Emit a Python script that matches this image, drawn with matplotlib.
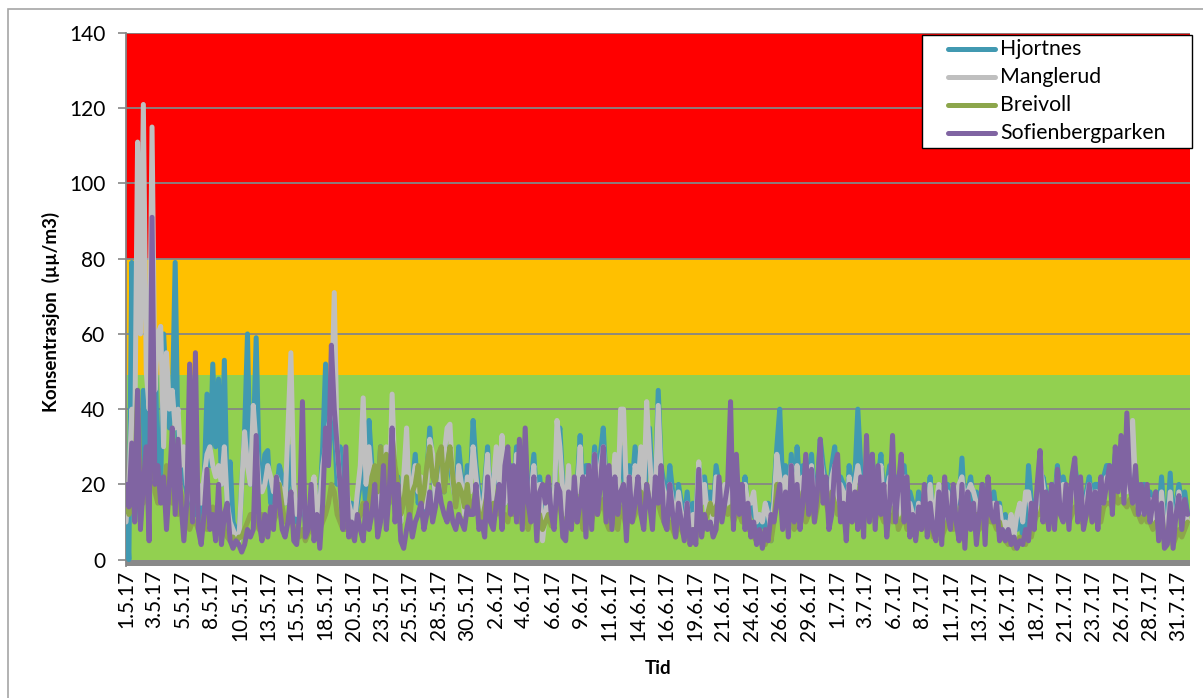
import matplotlib
matplotlib.use("Agg")
import matplotlib.pyplot as plt
import numpy as np
from matplotlib.patches import Rectangle
from matplotlib.lines import Line2D

plt.rcParams['font.family'] = ['Lato', 'DejaVu Sans']

# 6-hourly readings (4 per day), 1.5.17 - 31.7.17
hjortnes = [
    15, 0, 79, 40,  20, 10, 45, 30,  48, 30, 60, 20,  20, 60, 45, 35,  40, 79, 30, 25,
    22, 18, 15, 12,  12, 15, 10, 20,  44, 25, 52, 30,  48, 20, 53, 15,  26, 10, 8, 5,
    20, 34, 60, 20,  30, 59, 25, 20,  28, 29, 15, 20,  18, 25, 22, 15,  20, 30, 15, 10,
    12, 18, 10, 8,  15, 20, 12, 15,  30, 52, 25, 40,  35, 20, 30, 15,  20, 12, 15, 10,
    15, 20, 25, 12,  37, 25, 18, 15,  30, 20, 25, 15,  30, 20, 22, 12,  18, 25, 12, 20,
    28, 15, 20, 12,  22, 35, 25, 15,  20, 25, 18, 30,  25, 20, 15, 30,  22, 15, 25, 20,
    37, 25, 18, 12,  20, 30, 15, 22,  25, 18, 30, 15,  22, 25, 18, 30,  15, 20, 25, 12,
    20, 28, 15, 22,  15, 10, 20, 12,  18, 30, 35, 20,  15, 22, 12, 20,  20, 33, 15, 25,
    25, 18, 30, 20,  28, 35, 20, 15,  20, 25, 18, 30,  22, 15, 25, 20,  30, 20, 25, 15,
    25, 35, 18, 20,  45, 25, 20, 15,  25, 18, 12, 20,  15, 10, 18, 8,  15, 12, 25, 18,
    22, 15, 18, 12,  25, 20, 15, 18,  18, 25, 20, 15,  20, 15, 22, 12,  15, 12, 10, 8,
    12, 8, 15, 5,  18, 30, 40, 20,  25, 15, 28, 12,  30, 18, 25, 15,  22, 28, 15, 20,
    32, 25, 20, 15,  25, 30, 18, 22,  20, 12, 25, 18,  22, 40, 25, 15,  25, 20, 28, 15,
    22, 28, 15, 20,  25, 18, 22, 15,  20, 25, 15, 18,  15, 10, 18, 12,  18, 15, 22, 10,
    12, 18, 8, 15,  20, 15, 10, 18,  15, 27, 12, 18,  22, 15, 18, 12,  20, 12, 18, 15,
    18, 12, 15, 8,  12, 5, 10, 8,  8, 12, 6, 10,  25, 15, 12, 18,  15, 22, 18, 12,
    20, 15, 25, 18,  22, 18, 15, 20,  25, 20, 18, 15,  18, 22, 15, 20,  20, 15, 22, 25,
    25, 20, 28, 22,  25, 30, 20, 25,  22, 18, 20, 15,  20, 15, 18, 12,  18, 12, 22, 10,
    10, 23, 8, 15,  20, 15, 18, 12,
]
manglerud = [
    10, 20, 40, 30,  111, 60, 121, 50,  40, 115, 45, 60,  62, 30, 55, 40,  45, 35, 40, 25,
    30, 20, 18, 15,  18, 20, 15, 22,  28, 30, 25, 22,  25, 20, 30, 15,  10, 8, 6, 5,
    20, 34, 25, 20,  41, 30, 20, 18,  20, 25, 22, 18,  22, 20, 18, 15,  35, 55, 20, 12,
    15, 20, 12, 8,  18, 22, 12, 15,  25, 30, 35, 40,  71, 30, 20, 15,  20, 15, 12, 10,
    18, 25, 43, 20,  30, 20, 15, 12,  25, 22, 30, 18,  44, 22, 18, 10,  22, 35, 15, 20,
    25, 18, 22, 14,  20, 32, 28, 15,  18, 22, 28, 35,  36, 20, 15, 25,  20, 12, 22, 18,
    30, 22, 15, 10,  18, 28, 12, 20,  30, 20, 33, 15,  20, 22, 15, 28,  12, 18, 20, 10,
    18, 25, 12, 20,  5, 12, 18, 10,  15, 37, 30, 18,  12, 25, 10, 18,  18, 30, 12, 22,
    22, 15, 28, 18,  25, 30, 18, 12,  18, 28, 15, 40,  40, 18, 22, 15,  25, 20, 30, 18,
    42, 28, 15, 18,  41, 22, 18, 12,  20, 15, 10, 18,  12, 8, 15, 5,  12, 10, 26, 15,
    20, 12, 15, 10,  22, 18, 14, 20,  15, 22, 18, 12,  18, 12, 20, 15,  15, 18, 10, 12,
    10, 15, 12, 8,  15, 28, 22, 18,  22, 12, 25, 10,  25, 15, 22, 12,  20, 25, 12, 18,
    28, 22, 18, 12,  22, 25, 15, 20,  18, 10, 22, 15,  20, 25, 20, 12,  22, 18, 25, 12,
    20, 25, 12, 18,  22, 15, 18, 12,  18, 22, 12, 15,  12, 8, 15, 10,  15, 12, 20, 10,
    15, 20, 10, 12,  18, 14, 12, 16,  20, 22, 15, 18,  20, 18, 15, 10,  18, 10, 16, 12,
    15, 10, 14, 8,  10, 8, 12, 6,  12, 15, 10, 18,  18, 12, 10, 15,  25, 20, 15, 12,
    18, 14, 22, 15,  20, 15, 12, 18,  22, 18, 15, 12,  16, 20, 14, 18,  18, 14, 20, 22,
    22, 18, 25, 20,  22, 28, 18, 22,  37, 20, 15, 12,  18, 14, 16, 10,  16, 10, 18, 8,
    8, 18, 6, 12,  18, 12, 15, 10,
]
breivoll = [
    16, 12, 14, 20,  45, 20, 15, 25,  20, 30, 18, 15,  20, 15, 25, 18,  15, 20, 12, 18,
    12, 15, 8, 10,  10, 8, 7, 12,  8, 10, 14, 10,  10, 12, 8, 6,  5, 6, 4, 6,
    6, 8, 10, 12,  12, 10, 8, 12,  8, 10, 12, 10,  12, 20, 14, 10,  10, 12, 8, 6,
    6, 8, 5, 7,  8, 10, 6, 8,  10, 12, 15, 20,  18, 12, 10, 8,  8, 10, 6, 8,
    10, 12, 15, 10,  15, 22, 25, 18,  30, 20, 28, 15,  33, 25, 20, 12,  15, 22, 10, 18,
    20, 25, 14, 18,  25, 30, 22, 20,  28, 30, 18, 25,  30, 22, 14, 20,  18, 14, 20, 12,
    15, 18, 12, 10,  14, 18, 10, 15,  12, 15, 10, 12,  10, 15, 12, 14,  10, 12, 15, 8,
    12, 14, 10, 12,  8, 10, 12, 9,  12, 15, 14, 10,  8, 12, 10, 12,  10, 14, 8, 12,
    12, 10, 14, 12,  14, 16, 10, 8,  10, 12, 8, 14,  12, 8, 14, 10,  12, 15, 18, 10,
    20, 15, 12, 18,  15, 12, 10, 8,  10, 8, 6, 10,  8, 6, 10, 4,  8, 6, 10, 8,
    10, 12, 15, 12,  14, 16, 12, 14,  12, 14, 10, 12,  12, 10, 14, 8,  8, 6, 5, 6,
    6, 4, 8, 5,  10, 20, 15, 12,  14, 10, 22, 8,  15, 12, 18, 10,  12, 18, 10, 14,
    20, 22, 15, 12,  18, 15, 12, 14,  12, 8, 14, 10,  14, 18, 15, 10,  15, 12, 16, 10,
    14, 12, 10, 12,  12, 10, 14, 8,  10, 12, 8, 10,  8, 6, 10, 8,  10, 8, 12, 6,
    8, 10, 6, 8,  10, 12, 8, 10,  10, 12, 8, 10,  12, 10, 12, 8,  10, 8, 12, 10,
    10, 8, 10, 6,  5, 4, 6, 3,  4, 6, 5, 4,  8, 6, 10, 12,  12, 15, 10, 12,
    12, 10, 14, 12,  14, 12, 10, 12,  14, 12, 10, 10,  12, 14, 10, 12,  12, 10, 14, 15,
    15, 14, 18, 15,  16, 15, 14, 16,  14, 12, 12, 10,  12, 10, 10, 8,  10, 8, 12, 6,
    5, 8, 4, 6,  8, 6, 8, 10,
]
sofienbergparken = [
    20, 14, 31, 10,  45, 8, 20, 30,  5, 91, 20, 25,  15, 22, 8, 20,  35, 12, 32, 15,
    5, 15, 52, 10,  55, 8, 4, 12,  24, 8, 12, 5,  20, 4, 12, 15,  5, 3, 5, 4,
    2, 4, 8, 6,  8, 33, 10, 5,  12, 6, 14, 8,  22, 15, 8, 6,  10, 18, 5, 4,
    12, 42, 6, 8,  20, 5, 12, 3,  15, 35, 25, 57,  40, 30, 20, 8,  30, 6, 10, 5,
    12, 8, 5, 15,  8, 12, 20, 6,  10, 25, 8, 18,  35, 10, 20, 5,  3, 8, 12, 6,
    10, 12, 15, 8,  12, 18, 10, 14,  20, 15, 12, 10,  15, 10, 8, 12,  10, 8, 14, 12,
    12, 20, 8, 10,  6, 22, 10, 8,  15, 20, 8, 25,  30, 12, 25, 10,  32, 8, 35, 15,
    10, 22, 5, 18,  20, 15, 22, 12,  8, 20, 18, 6,  5, 18, 8, 22,  10, 15, 22, 6,
    25, 8, 28, 12,  20, 30, 10, 25,  8, 22, 12, 18,  20, 5, 22, 10,  15, 22, 12, 8,
    20, 15, 8, 22,  15, 25, 10, 8,  20, 12, 6, 15,  10, 5, 15, 4,  8, 4, 24, 6,
    12, 8, 10, 6,  8, 22, 10, 15,  20, 42, 8, 28,  12, 20, 8, 15,  6, 10, 4, 8,
    3, 8, 5, 12,  10, 15, 20, 8,  18, 6, 25, 10,  20, 8, 15, 28,  12, 24, 10, 18,
    32, 15, 22, 8,  12, 25, 28, 10,  15, 5, 20, 10,  18, 8, 22, 6,  33, 10, 28, 8,
    25, 12, 20, 6,  15, 33, 10, 20,  28, 10, 22, 6,  12, 5, 14, 8,  20, 6, 15, 8,
    5, 18, 4, 22,  12, 8, 20, 10,  5, 20, 3, 18,  8, 15, 4, 12,  20, 4, 22, 12,
    10, 15, 5, 8,  5, 8, 4, 6,  3, 5, 4, 8,  5, 15, 8, 20,  29, 10, 18, 8,
    20, 8, 24, 12,  10, 20, 8, 22,  27, 10, 22, 8,  12, 20, 10, 18,  8, 22, 15, 20,
    25, 12, 30, 18,  33, 15, 39, 20,  15, 25, 12, 20,  12, 20, 10, 15,  18, 5, 15, 3,
    4, 15, 3, 12,  17, 8, 16, 12,
]

series_names = ["Hjortnes", "Manglerud", "Breivoll", "Sofienbergparken"]
series_colors = ["#4199B1", "#BFBFBF", "#8CA64B", "#8064A2"]

tick_labels = [
    "1.5.17", "3.5.17", "5.5.17", "8.5.17", "10.5.17", "13.5.17", "15.5.17", "18.5.17",
    "20.5.17", "23.5.17", "25.5.17", "28.5.17", "30.5.17", "2.6.17", "4.6.17", "6.6.17",
    "9.6.17", "11.6.17", "14.6.17", "16.6.17", "19.6.17", "21.6.17", "24.6.17", "26.6.17",
    "29.6.17", "1.7.17", "3.7.17", "6.7.17", "8.7.17", "11.7.17", "13.7.17", "16.7.17",
    "18.7.17", "21.7.17", "23.7.17", "26.7.17", "28.7.17", "31.7.17",
]

# threshold bands (lower, upper, colour)
band_limits = [0, 49, 80, 140]
band_colors = ["#92D050", "#FFC000", "#FF0000"]

step_hours = 6
tick_interval_hours = 59

fig = plt.figure(figsize=(12.03, 6.98), dpi=100)
W, H = 1203, 698
ax = fig.add_axes([126 / W, 1 - 566 / H, (1190 - 126) / W, (566 - 33) / H])

def fx(px):
    return px / W

def fy(py):
    return 1 - py / H

# figure border
fig.patches.append(Rectangle((fx(8), -0.1), 1.2, fy(9) + 0.1, transform=fig.transFigure,
                             fill=False, edgecolor="#A6A6A6", linewidth=1.2))

ymin = -1.7
ax.axhspan(ymin, 0, color="#898989", zorder=0, lw=0)
for lo, hi, c in zip(band_limits[:-1], band_limits[1:], band_colors):
    ax.axhspan(lo, hi, color=c, zorder=0, lw=0)

for yv in range(20, 141, 20):
    ax.axhline(yv, color="#868686", lw=1.3, zorder=1)

data = [hjortnes, manglerud, breivoll, sofienbergparken]
for name, vals, col in zip(series_names, data, series_colors):
    x = np.arange(len(vals)) * step_hours
    ax.plot(x, vals, color=col, lw=3.6, label=name, zorder=3,
            solid_joinstyle="round", solid_capstyle="round")

n_hours = len(hjortnes) * step_hours
ax.set_xlim(0, n_hours - 1)
ax.set_ylim(ymin, 140)

ax.set_xticks([tick_interval_hours * k for k in range(len(tick_labels))])
ax.set_xticklabels(tick_labels, rotation=90, fontsize=15)
ax.tick_params(axis="x", length=0, pad=3)
ax.set_yticks(range(0, 141, 20))
ax.tick_params(axis="y", labelsize=15, length=6, color="#868686", width=1.2, pad=9)

for s in ["top", "right", "bottom"]:
    ax.spines[s].set_visible(False)
ax.spines["left"].set_color("#868686")
ax.spines["left"].set_linewidth(1.3)

ax.set_ylabel("Konsentrasjon  (µµ/m3)", fontsize=13.5, fontweight="bold", labelpad=6)
ax.yaxis.label.set_y(0.476)
ax.set_xlabel("Tid", fontsize=13.5, fontweight="bold", labelpad=14)

# legend box (drawn to match the original layout)
fig.patches.append(Rectangle((fx(922), fy(148)), fx(1192) - fx(922), fy(35) - fy(148),
                             transform=fig.transFigure, facecolor="white",
                             edgecolor="black", linewidth=1.0, zorder=5))
row_y = [49, 77, 105, 133]
for name, col, ry in zip(series_names, series_colors, row_y):
    fig.add_artist(Line2D([fx(948), fx(995)], [fy(ry), fy(ry)], color=col, lw=3.6,
                          solid_capstyle="round", transform=fig.transFigure, zorder=6))
    fig.text(fx(1000), fy(ry), name, fontsize=15.3, va="center", ha="left", zorder=6)

fig.savefig("out.png", dpi=100)
